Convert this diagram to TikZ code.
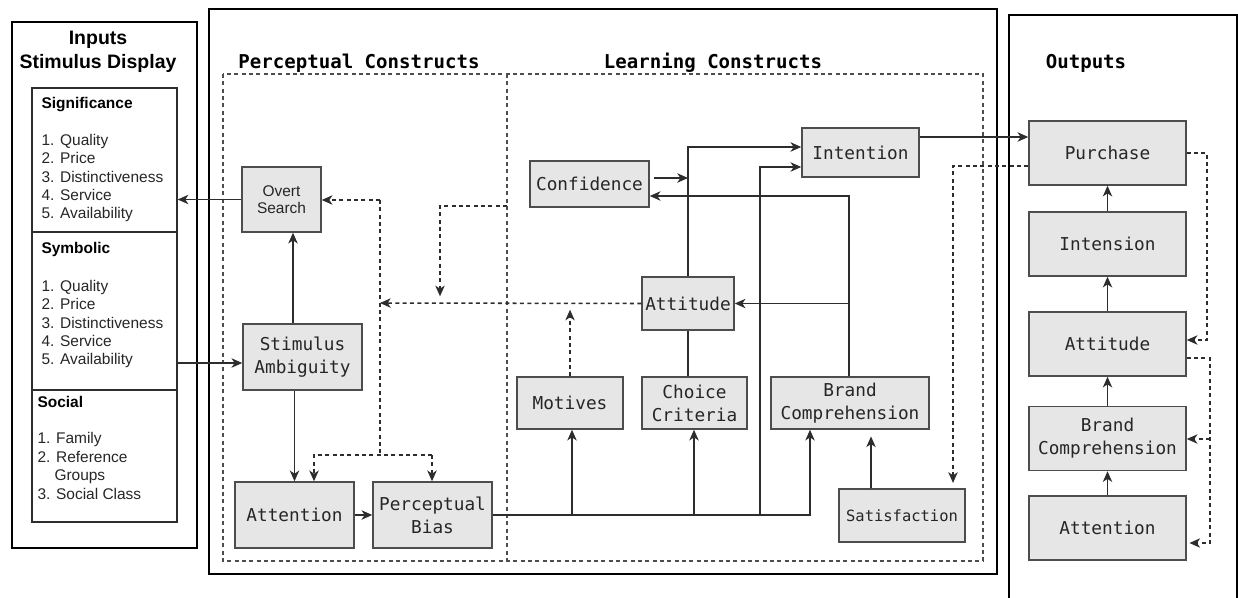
\documentclass[tikz,border=0pt]{standalone}
\usepackage{fontspec}
\setmainfont{Liberation Sans}
\setmonofont{DejaVu Sans Mono}
\usetikzlibrary{arrows.meta}

\definecolor{boxfill}{RGB}{230,230,230}
\definecolor{boxline}{RGB}{77,77,77}
\definecolor{wire}{RGB}{45,45,45}
\definecolor{inktext}{RGB}{38,38,38}

\tikzset{
	every picture/.style={line width=0.75pt},
	sz/.style 2 args={minimum width=#1*0.75pt, minimum height=#2*0.75pt},
	blk/.style={draw=boxline, fill=boxfill, line width=1.1pt, inner sep=0pt, align=center, text=inktext,
		font=\ttfamily\fontsize{13.3}{17.3}\selectfont},
	frame/.style={draw=black, line width=2.2pt},
	region/.style={draw=boxline, line width=1pt, dash pattern=on 3pt off 2.5pt},
	thin/.style={draw=wire, line width=1pt},
	wireln/.style={draw=wire, line width=1.15pt},
	arr/.style={wireln, -{Stealth[length=8pt,width=7pt,inset=2.3pt]}},
	darr/.style={arr, dash pattern=on 3pt off 2.5pt},
	dline/.style={wireln, dash pattern=on 3pt off 2.5pt},
	ttl/.style={font=\bfseries\fontsize{14.6}{18}\selectfont, anchor=base},
	mttl/.style={font=\ttfamily\bfseries\fontsize{14.3}{18}\selectfont, anchor=base},
	hdr/.style={font=\bfseries\fontsize{11.6}{13.8}\selectfont, anchor=base west},
	itm/.style={font=\fontsize{11.6}{13.8}\selectfont, text=inktext, anchor=base west, inner sep=0pt}
}

\begin{document}
\begin{tikzpicture}[x=0.75pt,y=0.75pt,yscale=-1,xscale=1]
	\useasboundingbox (0,0) rectangle (1238,597);

	% Frames
	\draw[frame] (12,22) rectangle (197,548);
	\draw[frame] (209,9) rectangle (997,574);
	\draw[frame] (1009,600) -- (1009,15) -- (1237,15) -- (1237,600);

	% Construct regions
	\draw[region] (223,74) rectangle (983,561);
	\draw[region] (507,74) -- (507,561);

	% Titles
	\node[ttl] (tinputs) at (98,44) {Inputs};
	\node[ttl] (tdisplay) at (98,68) {Stimulus Display};
	\node[mttl] (tpercept) at (359,68) {Perceptual Constructs};
	\node[mttl] (tlearn) at (713,68) {Learning Constructs};
	\node[mttl] (toutputs) at (1086,68) {Outputs};

	%Stimulus display panel
	\node[thin, draw, sz={145}{434}, inner sep=0pt] (stimdisp) at (104.5,305) {};
	\draw[thin] (32,232) -- (177,232);
	\draw[thin] (32,390) -- (177,390);

	\node[hdr, inner sep=0pt] (sig) at (41,108.5) {Significance};
	\foreach \t [count=\i] in {Quality,Price,Distinctiveness,Service,Availability}
		\node[itm] (sig-\i) at (41,{145.5+18.3*(\i-1)}) {\i. \t};
	\node[hdr, inner sep=0pt] (sym) at (41,253.5) {Symbolic};
	\foreach \t [count=\i] in {Quality,Price,Distinctiveness,Service,Availability}
		\node[itm] (sym-\i) at (41,{291.5+18.3*(\i-1)}) {\i. \t};
	\node[hdr, inner sep=0pt] (soc) at (37,407.5) {Social};
	\node[itm] (soc-1) at (37,443.5) {1. Family};
	\node[itm] (soc-2) at (37,462) {2. Reference};
	\node[itm] (soc-2b) at (54,480.5) {Groups};
	\node[itm] (soc-3) at (37,499) {3. Social Class};

	% Perceptual constructs
	\node[blk, sz={79}{65}, font=\fontsize{11.6}{12.8}\selectfont] (overt) at (281.5,199.5) {Overt\\Search};
	\node[blk, sz={119}{66}] (stim) at (302.5,357) {Stimulus\\Ambiguity};
	\node[blk, sz={119}{66}] (attn) at (294.5,515) {Attention};
	\node[blk, sz={119}{66}] (pbias) at (432.5,515) {Perceptual\\Bias};

	% Learning constructs
	\node[blk, sz={119}{46}] (conf) at (589.5,184) {Confidence};
	\node[blk, sz={117}{49}] (intent) at (860.5,152.5) {Intention};
	\node[blk, sz={92}{53}] (attit) at (688,303.5) {Attitude};
	\node[blk, sz={106}{52}] (motiv) at (570,403) {Motives};
	\node[blk, sz={105}{52}] (choice) at (694.5,403) {Choice\\Criteria};
	\node[blk, sz={158}{52}] (brand) at (850,403) {Brand\\Comprehension};
	\node[blk, sz={126}{53}, font=\ttfamily\fontsize{11.6}{14}\selectfont] (satis) at (902,515.5) {Satisfaction};

	% Outputs
	\node[blk, sz={157}{64}] (opurch) at (1107.5,153) {Purchase};
	\node[blk, sz={157}{64}] (ointen) at (1107.5,244) {Intension};
	\node[blk, sz={157}{64}] (oattit) at (1107.5,344) {Attitude};
	\node[blk, sz={157}{64}] (obrand) at (1107.5,438.5) {Brand\\Comprehension};
	\node[blk, sz={157}{64}] (oattn) at (1107.5,528) {Attention};

	% Junctions
	\coordinate (xos) at (293,0);
	\coordinate (symout) at (177,363);
	\coordinate (fbtop) at (380,200);
	\coordinate (fbmid) at (380,303);
	\coordinate (fbbot) at (380,455);
	\coordinate (fbl) at (314,455);
	\coordinate (fbr) at (432,455);
	\coordinate (dv) at (507,206);
	\coordinate (dvend) at (440,303);
	\coordinate (bus) at (810,515);
	\coordinate (jm) at (572,515);
	\coordinate (jc) at (694,515);
	\coordinate (ji) at (760,515);
	\coordinate (ihi) at (0,147);
	\coordinate (ilo) at (0,167);
	\coordinate (cin) at (688,178);
	\coordinate (cback) at (849,196);
	\coordinate (xsat) at (871,0);
	\coordinate (iout) at (0,137);
	\coordinate (pback) at (953,166);
	\coordinate (r1a) at (1207,153);
	\coordinate (r1b) at (1207,340);
	\coordinate (r2a) at (1210,358);
	\coordinate (r2m) at (1210,439);
	\coordinate (r2b) at (1210,543);

	% Solid connectors
	\draw[arr] (overt.west) -- (overt.west -| stimdisp.east);
	\draw[arr] (symout) -- (symout -| stim.west);
	\draw[arr] (stim.north -| xos) -- (overt.south -| xos);
	\draw[arr] (stim.south -| attn.north) -- (attn.north);
	\draw[arr] (attn.east) -- (pbias.west);
	\draw[arr] (pbias.east) -- (bus) -- (bus |- brand.south);
	\draw[arr] (jm) -- (jm |- motiv.south);
	\draw[arr] (jc) -- (jc |- choice.south);
	\draw[arr] (ji) |- (intent.west |- ilo);
	\draw[wireln] (choice.north -| attit.south) -- (attit.south);
	\draw[arr] (attit.north) |- (intent.west |- ihi);
	\draw[arr, shorten <=3pt] (conf.east |- cin) -- (cin);
	\draw[arr] (brand.north -| cback) -- (cback) -- (cback -| conf.east);
	\draw[arr] (cback |- attit.east) -- (attit.east);
	\draw[arr, shorten >=5pt] (satis.north -| xsat) -- (brand.south -| xsat);
	\draw[arr] (intent.east |- iout) -- (opurch.west |- iout);

	% Dashed feedback
	\draw[darr, shorten >=4pt] (opurch.west |- pback) -- (pback) -- (pback |- satis.north);
	\draw[darr] (attit.west) -- (fbmid);
	\draw[dline] (fbtop) -- (fbbot);
	\draw[darr] (fbtop) -- (fbtop -| overt.east);
	\draw[darr] (fbr) -- (fbl) -- (fbl |- attn.north);
	\draw[darr] (fbr) -- (fbr |- pbias.north);
	\draw[darr, shorten >=5pt] (motiv.north) -- (motiv.north |- fbmid);
	\draw[darr, shorten >=5pt] (dv) -| (dvend);

	% Output chain
	\foreach \a/\b in {oattn/obrand, obrand/oattit, oattit/ointen, ointen/opurch}
		\draw[arr] (\a.north) -- (\b.south);
	\draw[darr] (opurch.east) -- (r1a) -- (r1b) -- (r1b -| oattit.east);
	\draw[darr, shorten >=2pt] (oattit.east |- r2a) -- (r2a) -- (r2b) -- (r2b -| oattn.east);
	\draw[darr] (r2m) -- (r2m -| obrand.east);

\end{tikzpicture}
\end{document}
